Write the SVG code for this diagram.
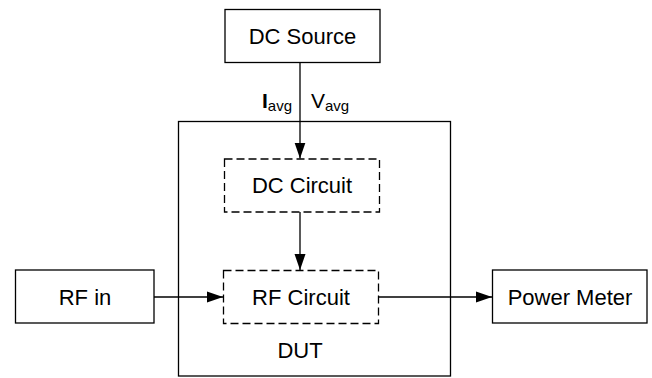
<svg xmlns="http://www.w3.org/2000/svg" width="652" height="378" viewBox="0 0 652 378">
  <style>
    .box { fill: #ffffff; stroke: #000000; stroke-width: 1.3; }
    .dash { fill: none; stroke: #000000; stroke-width: 1.3; stroke-dasharray: 8 4; }
    .dut { fill: none; stroke: #000000; stroke-width: 1.3; }
    .lbl { font-family: "Liberation Sans", Arial, sans-serif; font-size: 22px; fill: #000000; text-anchor: middle; }
    .sig { font-family: "Liberation Sans", Arial, sans-serif; font-size: 21px; fill: #000000; }
    .sub { font-size: 15px; }
    .wire { fill: none; stroke: #000000; stroke-width: 1.3; }
  </style>
  <defs>
    <marker id="arr" markerUnits="userSpaceOnUse" markerWidth="17" markerHeight="12" refX="16" refY="6" orient="auto">
      <path d="M0,0.5 L16,6 L0,11.5 Z" fill="#000000"/>
    </marker>
  </defs>
  <rect width="652" height="378" fill="#ffffff"/>

  <g id="dut">
    <rect class="dut" x="178.5" y="121.5" width="272" height="254.5"/>
    <text class="lbl" x="300" y="357.5">DUT</text>
  </g>

  <g id="dc-source">
    <rect class="box" x="225" y="9.5" width="155" height="53"/>
    <text class="lbl" x="302.5" y="43.5">DC Source</text>
  </g>

  <g id="dc-circuit">
    <rect class="dash" x="224.5" y="159" width="155" height="53"/>
    <text class="lbl" x="302" y="193">DC Circuit</text>
  </g>

  <g id="rf-circuit">
    <rect class="dash" x="223.5" y="270.5" width="155" height="53"/>
    <text class="lbl" x="301" y="304.5">RF Circuit</text>
  </g>

  <g id="rf-in">
    <rect class="box" x="15.5" y="270" width="138.5" height="53"/>
    <text class="lbl" x="85" y="304.5">RF in</text>
  </g>

  <g id="power-meter">
    <rect class="box" x="492.5" y="270" width="154.5" height="53"/>
    <text class="lbl" x="570" y="304.5">Power Meter</text>
  </g>

  <g id="connectors">
    <line class="wire" x1="300" y1="62.5" x2="300" y2="158.5" marker-end="url(#arr)"/>
    <line class="wire" x1="300" y1="212" x2="300" y2="270" marker-end="url(#arr)"/>
    <line class="wire" x1="154" y1="297" x2="223" y2="297" marker-end="url(#arr)"/>
    <line class="wire" x1="378.5" y1="297" x2="492" y2="297" marker-end="url(#arr)"/>
    <text class="sig" x="262" y="108" font-weight="bold">I<tspan class="sub" font-weight="normal" dy="3">avg</tspan></text>
    <text class="sig" x="311" y="108">V<tspan class="sub" dy="3">avg</tspan></text>
  </g>
</svg>
